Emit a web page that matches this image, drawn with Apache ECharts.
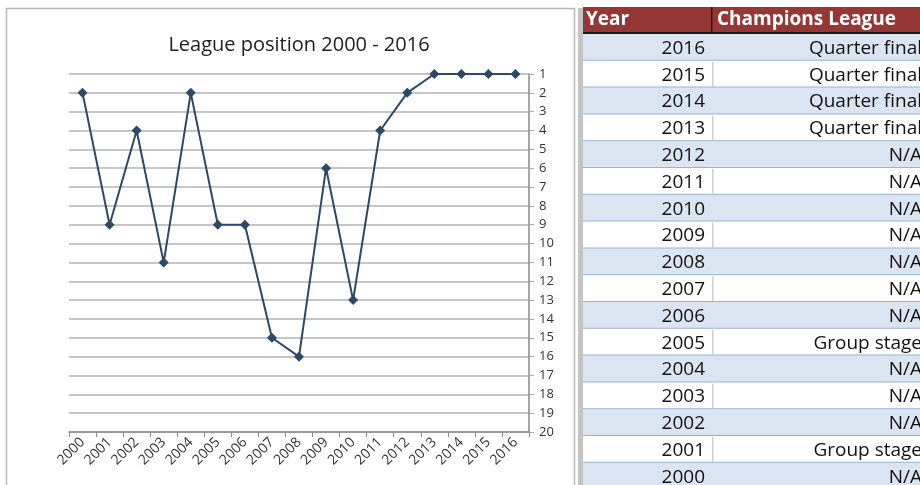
<!DOCTYPE html>
<html><head><meta charset="utf-8">
<script src="https://cdn.jsdelivr.net/npm/echarts@6/dist/echarts.min.js"></script>
<style>html,body{margin:0;padding:0;background:#fff}#c{width:920px;height:485px}</style>
</head><body><div id="c"></div>
<script>
const years = ['2000','2001','2002','2003','2004','2005','2006','2007','2008','2009','2010','2011','2012','2013','2014','2015','2016'];
const positions = [2,9,4,11,2,9,9,15,16,6,13,4,2,1,1,1,1];
const tableYears = ['2016','2015','2014','2013','2012','2011','2010','2009','2008','2007','2006','2005','2004','2003','2002','2001','2000'];
const tableCL = ['Quarter final','Quarter final','Quarter final','Quarter final','N/A','N/A','N/A','N/A','N/A','N/A','N/A','Group stage','N/A','N/A','N/A','Group stage','N/A'];
const tableHeader = ['Year','Champions League'];

(function(){
const FONT = '"Open Sans", "Noto Sans", sans-serif';
const chart = echarts.init(document.getElementById('c'), null, {renderer:'canvas'});

const g = [];
// chart frame
g.push({type:'polyline', shape:{points:[[6.5,486],[6.5,8.5],[574.5,8.5],[574.5,486]]}, style:{stroke:'#b8b8b8', lineWidth:1.5, fill:null}, z:0});
g.push({type:'rect', shape:{x:578, y:8, width:5, height:477}, style:{fill:'#c4c4c4'}, z:0});
// table
const tx = 583, tw = 920 - 583, colX = 712, rowTop = 34, rh = 26.8;
g.push({type:'rect', shape:{x:tx, y:7, width:tw, height:26}, style:{fill:'#953735'}});
g.push({type:'rect', shape:{x:tx, y:32, width:tw, height:2}, style:{fill:'#1a1a1a'}});
g.push({type:'rect', shape:{x:colX-1, y:7, width:1.5, height:26}, style:{fill:'#3a1414'}});
g.push({type:'text', style:{text:tableHeader[0], x:tx+3, y:20, fill:'#fff', font:'bold 19px '+FONT, textVerticalAlign:'middle'}});
g.push({type:'text', style:{text:tableHeader[1], x:colX+5, y:20, fill:'#fff', font:'bold 19px '+FONT, textVerticalAlign:'middle'}});
tableYears.forEach((yr,i)=>{
  const y = rowTop + i*rh;
  g.push({type:'rect', shape:{x:tx, y:y, width:tw, height:rh}, style:{fill: i%2===0 ? '#dbe5f1' : '#ffffff'}});
  g.push({type:'rect', shape:{x:tx, y:y+rh-1, width:tw, height:1.5}, style:{fill:'#95b3d7'}});
  if (i%2===1) g.push({type:'rect', shape:{x:colX, y:y+1, width:1.5, height:rh-2}, style:{fill:'#d0d0d0'}});
  g.push({type:'text', style:{text:yr, x:colX-7, y:y+rh/2+1, fill:'#111', font:'19px '+FONT, textAlign:'right', textVerticalAlign:'middle'}});
  g.push({type:'text', style:{text:tableCL[i], x:922, y:y+rh/2+1, fill:'#111', font:'19px '+FONT, textAlign:'right', textVerticalAlign:'middle'}});
});

chart.setOption({
  animation:false,
  title:{text:'League position 2000 - 2016', left:294, top:30, textAlign:'center',
    textStyle:{fontFamily:FONT, fontSize:20, fontWeight:'normal', color:'#222'}},
  grid:{left:69, right:391, top:74, bottom:53},
  xAxis:{type:'category', data:years, boundaryGap:true,
    axisLine:{lineStyle:{color:'#8a8a8a', width:1.5}},
    axisTick:{show:true, length:5, lineStyle:{color:'#8a8a8a'}},
    axisLabel:{rotate:45, fontFamily:FONT, fontSize:14, color:'#333', margin:8}},
  yAxis:{type:'value', inverse:true, min:1, max:20, interval:1, position:'right',
    axisLine:{show:true, lineStyle:{color:'#8a8a8a', width:1.5}},
    axisTick:{show:true, length:5, lineStyle:{color:'#aaa'}},
    axisLabel:{fontFamily:FONT, fontSize:13, color:'#333', margin:10},
    splitLine:{show:true, lineStyle:{color:'#c6c6c6', width:2}}},
  series:[{type:'line', data:positions, symbol:'diamond', symbolSize:10,
    lineStyle:{color:'#2c4865', width:2}, itemStyle:{color:'#2c4865'}}],
  graphic:g
});
})();
</script></body></html>
